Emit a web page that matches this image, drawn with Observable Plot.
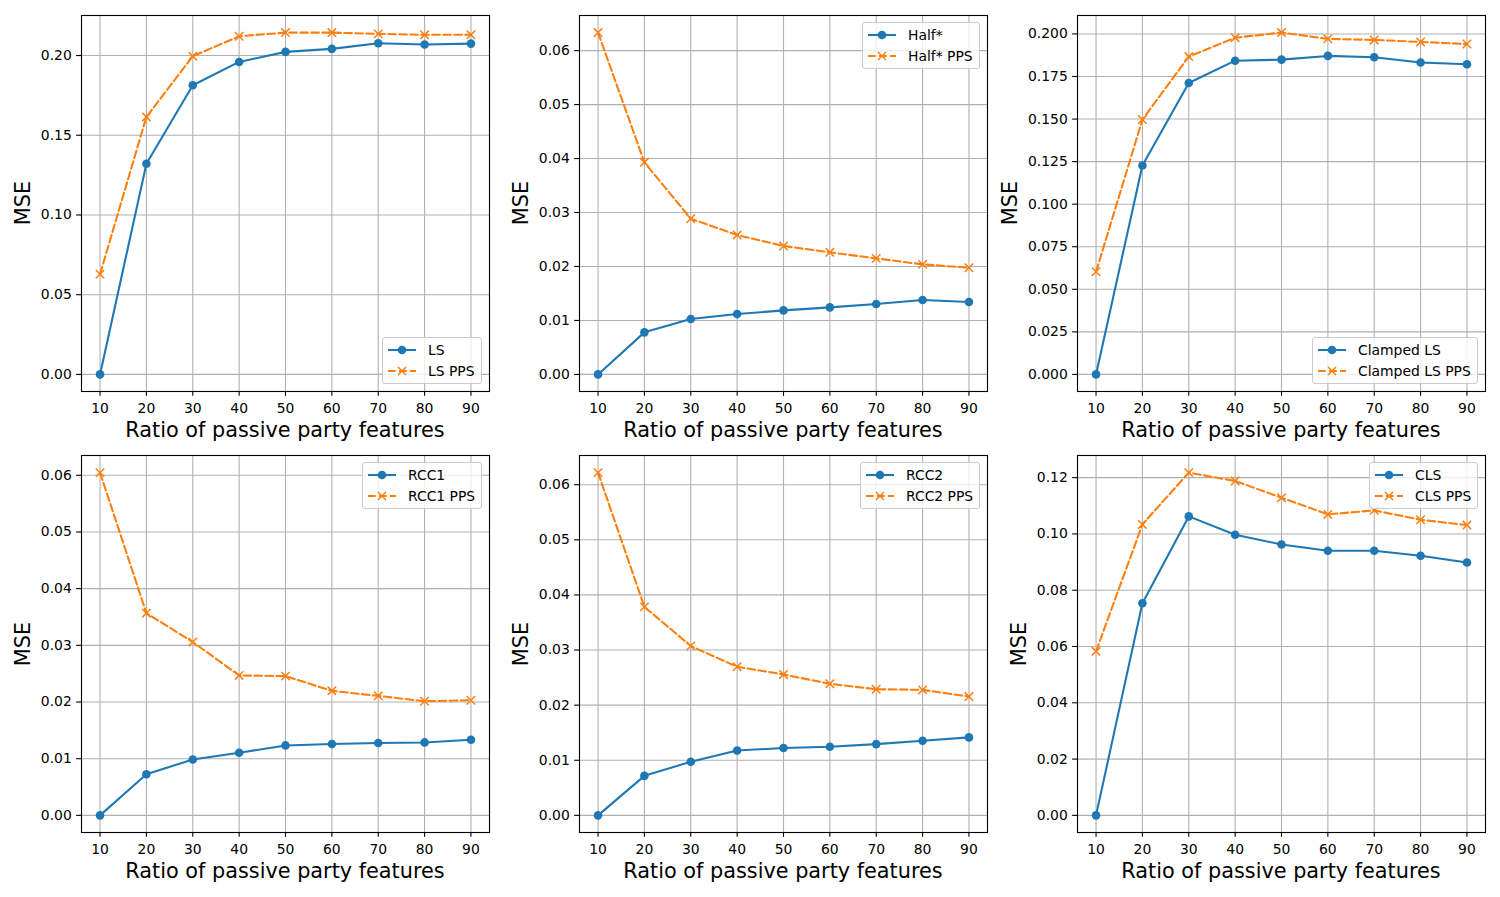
<!DOCTYPE html>
<html>
<head>
<meta charset="utf-8">
<script src="https://cdn.jsdelivr.net/npm/d3@7"></script>
<script src="https://cdn.jsdelivr.net/npm/@observablehq/plot@0.6"></script>
<style>
  html, body { margin: 0; padding: 0; background: #fff; }
  #fig { position: relative; width: 1500px; height: 897px; background: #fff; font-family: "DejaVu Sans", sans-serif; color: #000; overflow: hidden; }
  .cell { position: absolute; }
  .xlabel, .ylabel { position: absolute; font-size: 20.8px; white-space: nowrap; line-height: 1; }
  .ylabel { transform: translate(-50%, -50%) rotate(-90deg); }
  .xlabel { transform: translate(-50%, -50%); }
  .legend { position: absolute; background: rgba(255,255,255,0.8); border: 1px solid #cccccc; border-radius: 3px; padding: 5px 6px 5px 4px; font-size: 13.9px; line-height: 14px; }
  .legend .row { display: flex; align-items: center; height: 14px; white-space: nowrap; }
  .legend .row + .row { margin-top: 6.5px; }
  .legend svg { width: 30px; height: 14px; margin-right: 11px; overflow: visible; }
</style>
</head>
<body>
<div id="fig"></div>
<script>
const ratios = [10, 20, 30, 40, 50, 60, 70, 80, 90];
const xTickValues = [10, 20, 30, 40, 50, 60, 70, 80, 90];

const lsMse        = [0.0000, 0.1321, 0.1814, 0.1960, 0.2023, 0.2042, 0.2077, 0.2069, 0.2075];
const lsPpsMse     = [0.0629, 0.1615, 0.1996, 0.2121, 0.2144, 0.2144, 0.2136, 0.2130, 0.2130];

const halfMse      = [0.0000, 0.00779, 0.01026, 0.01118, 0.01186, 0.01242, 0.01304, 0.01378, 0.01341];
const halfPpsMse   = [0.06334, 0.0393, 0.02886, 0.02583, 0.02379, 0.02262, 0.02150, 0.02039, 0.01977];

const clampedMse    = [0.0000, 0.1227, 0.1712, 0.1843, 0.1849, 0.1871, 0.1863, 0.1832, 0.1822];
const clampedPpsMse = [0.0603, 0.1497, 0.1867, 0.1978, 0.2008, 0.1971, 0.1965, 0.1953, 0.1941];

const rcc1Mse      = [0.0000, 0.00726, 0.00986, 0.01104, 0.01234, 0.01258, 0.01276, 0.01287, 0.01335];
const rcc1PpsMse   = [0.06047, 0.03567, 0.03059, 0.02469, 0.02457, 0.02197, 0.02108, 0.02014, 0.02031];

const rcc2Mse      = [0.0000, 0.00717, 0.00972, 0.01178, 0.01221, 0.01245, 0.01293, 0.01354, 0.01415];
const rcc2PpsMse   = [0.06219, 0.03783, 0.03073, 0.02696, 0.02557, 0.02387, 0.02289, 0.02277, 0.02156];

const clsMse       = [0.0000, 0.07537, 0.10623, 0.0997, 0.09626, 0.0940, 0.0940, 0.09223, 0.08985];
const clsPpsMse    = [0.05828, 0.10338, 0.12178, 0.11881, 0.11288, 0.10694, 0.10837, 0.10504, 0.10315];

const yTicks1 = [0, 0.05, 0.10, 0.15, 0.20];
const yTicks2 = [0, 0.01, 0.02, 0.03, 0.04, 0.05, 0.06];
const yTicks3 = [0, 0.025, 0.05, 0.075, 0.10, 0.125, 0.15, 0.175, 0.20];
const yTicks6 = [0, 0.02, 0.04, 0.06, 0.08, 0.10, 0.12];

const xLabel = "Ratio of passive party features";
const yLabel = "MSE";

const blue = "#1f77b4";
const orange = "#ff7f0e";

const panels = [
  { frame: [81, 15, 489, 391],    base: lsMse,      pps: lsPpsMse,      names: ["LS", "LS PPS"],                 ticks: yTicks1, dec: 2, legend: "lower right" },
  { frame: [579, 15, 987, 391],   base: halfMse,    pps: halfPpsMse,    names: ["Half*", "Half* PPS"],           ticks: yTicks2, dec: 2, legend: "upper right" },
  { frame: [1077, 15, 1485, 391], base: clampedMse, pps: clampedPpsMse, names: ["Clamped LS", "Clamped LS PPS"], ticks: yTicks3, dec: 3, legend: "lower right" },
  { frame: [81, 455, 489, 832],   base: rcc1Mse,    pps: rcc1PpsMse,    names: ["RCC1", "RCC1 PPS"],             ticks: yTicks2, dec: 2, legend: "upper right" },
  { frame: [579, 455, 987, 832],  base: rcc2Mse,    pps: rcc2PpsMse,    names: ["RCC2", "RCC2 PPS"],             ticks: yTicks2, dec: 2, legend: "upper right" },
  { frame: [1077, 455, 1485, 832],base: clsMse,     pps: clsPpsMse,     names: ["CLS", "CLS PPS"],               ticks: yTicks6, dec: 2, legend: "upper right" }
];

const fig = document.getElementById("fig");
const FS = 13.9;
const TICK = 4.86;
const mL = 80, mT = 15, mR = 15, mB = 60;

function tableOf(arr) { return ratios.map((x, i) => ({ x, y: arr[i] })); }

for (const p of panels) {
  const [fx0, fy0, fx1, fy1] = p.frame;
  const w = fx1 - fx0, h = fy1 - fy0;
  const base = tableOf(p.base), pps = tableOf(p.pps);
  const all = p.base.concat(p.pps);
  const lo = d3.min(all), hi = d3.max(all);
  const pad = (hi - lo) * 0.05;
  const fmt = d3.format("." + p.dec + "f");

  const chart = Plot.plot({
    width: w + mL + mR,
    height: h + mT + mB,
    marginLeft: mL, marginTop: mT, marginRight: mR, marginBottom: mB,
    style: { fontFamily: "DejaVu Sans, sans-serif", fontSize: FS + "px", color: "#000", background: "transparent", overflow: "visible", maxWidth: "none" },
    x: { domain: [6, 94] },
    y: { domain: [lo - pad, hi + pad] },
    marks: [
      Plot.gridX({ ticks: xTickValues, stroke: "#b0b0b0", strokeOpacity: 1, strokeWidth: 1.1 }),
      Plot.gridY({ ticks: p.ticks, stroke: "#b0b0b0", strokeOpacity: 1, strokeWidth: 1.1 }),
      Plot.line(base, { x: "x", y: "y", stroke: blue, strokeWidth: 2.08 }),
      Plot.dot(base, { x: "x", y: "y", fill: blue, r: 4.3, stroke: "none" }),
      Plot.line(pps, { x: "x", y: "y", stroke: orange, strokeWidth: 2.08, strokeDasharray: "7.7,3.3" }),
      Plot.dot(pps, { x: "x", y: "y", symbol: "times", r: 3.9, stroke: orange, strokeWidth: 1.5 }),
      Plot.frame({ stroke: "#000", strokeWidth: 1.1 }),
      Plot.axisX({ ticks: xTickValues, tickFormat: d3.format("d"), tickSize: TICK, tickPadding: 6.6, label: null, strokeWidth: 1.1, fontSize: FS }),
      Plot.axisY({ ticks: p.ticks, tickFormat: fmt, tickSize: TICK, tickPadding: TICK, label: null, strokeWidth: 1.1, fontSize: FS })
    ]
  });
  chart.classList.add("cell");
  chart.style.left = (fx0 - mL) + "px";
  chart.style.top = (fy0 - mT) + "px";
  fig.appendChild(chart);

  // axis titles
  const xl = document.createElement("div");
  xl.className = "xlabel";
  xl.textContent = xLabel;
  xl.style.left = ((fx0 + fx1) / 2) + "px";
  xl.style.top = (fy1 + 39) + "px";
  fig.appendChild(xl);

  const tickLabelW = (p.dec + 1) * 0.636 * FS + 0.318 * FS;
  const yl = document.createElement("div");
  yl.className = "ylabel";
  yl.textContent = yLabel;
  yl.style.left = (fx0 - 2 * TICK - tickLabelW - 5.56 - 11.5) + "px";
  yl.style.top = ((fy0 + fy1) / 2) + "px";
  fig.appendChild(yl);

  // legend
  const lg = document.createElement("div");
  lg.className = "legend";
  const rows = [
    { name: p.names[0], kind: "solid" },
    { name: p.names[1], kind: "dash" }
  ];
  for (const r of rows) {
    const row = document.createElement("div");
    row.className = "row";
    const svgNS = "http://www.w3.org/2000/svg";
    const s = document.createElementNS(svgNS, "svg");
    s.setAttribute("viewBox", "0 0 30 14");
    const ln = document.createElementNS(svgNS, "line");
    ln.setAttribute("x1", 1); ln.setAttribute("x2", 29);
    ln.setAttribute("y1", 7); ln.setAttribute("y2", 7);
    ln.setAttribute("stroke-width", 2.08);
    if (r.kind === "solid") {
      ln.setAttribute("stroke", blue);
      s.appendChild(ln);
      const c = document.createElementNS(svgNS, "circle");
      c.setAttribute("cx", 15); c.setAttribute("cy", 7); c.setAttribute("r", 4.3);
      c.setAttribute("fill", blue);
      s.appendChild(c);
    } else {
      ln.setAttribute("stroke", orange);
      ln.setAttribute("stroke-dasharray", "7.7,3.3");
      s.appendChild(ln);
      const path = document.createElementNS(svgNS, "path");
      path.setAttribute("d", "M11,3L19,11M11,11L19,3");
      path.setAttribute("stroke", orange);
      path.setAttribute("stroke-width", 1.5);
      s.appendChild(path);
    }
    row.appendChild(s);
    const t = document.createElement("span");
    t.textContent = r.name;
    row.appendChild(t);
    lg.appendChild(row);
  }
  fig.appendChild(lg);
  const lw = lg.offsetWidth, lh = lg.offsetHeight;
  lg.style.left = (fx1 - 7 - lw) + "px";
  if (p.legend === "lower right") lg.style.top = (fy1 - 7 - lh) + "px";
  else lg.style.top = (fy0 + 7) + "px";
}
</script>
</body>
</html>
